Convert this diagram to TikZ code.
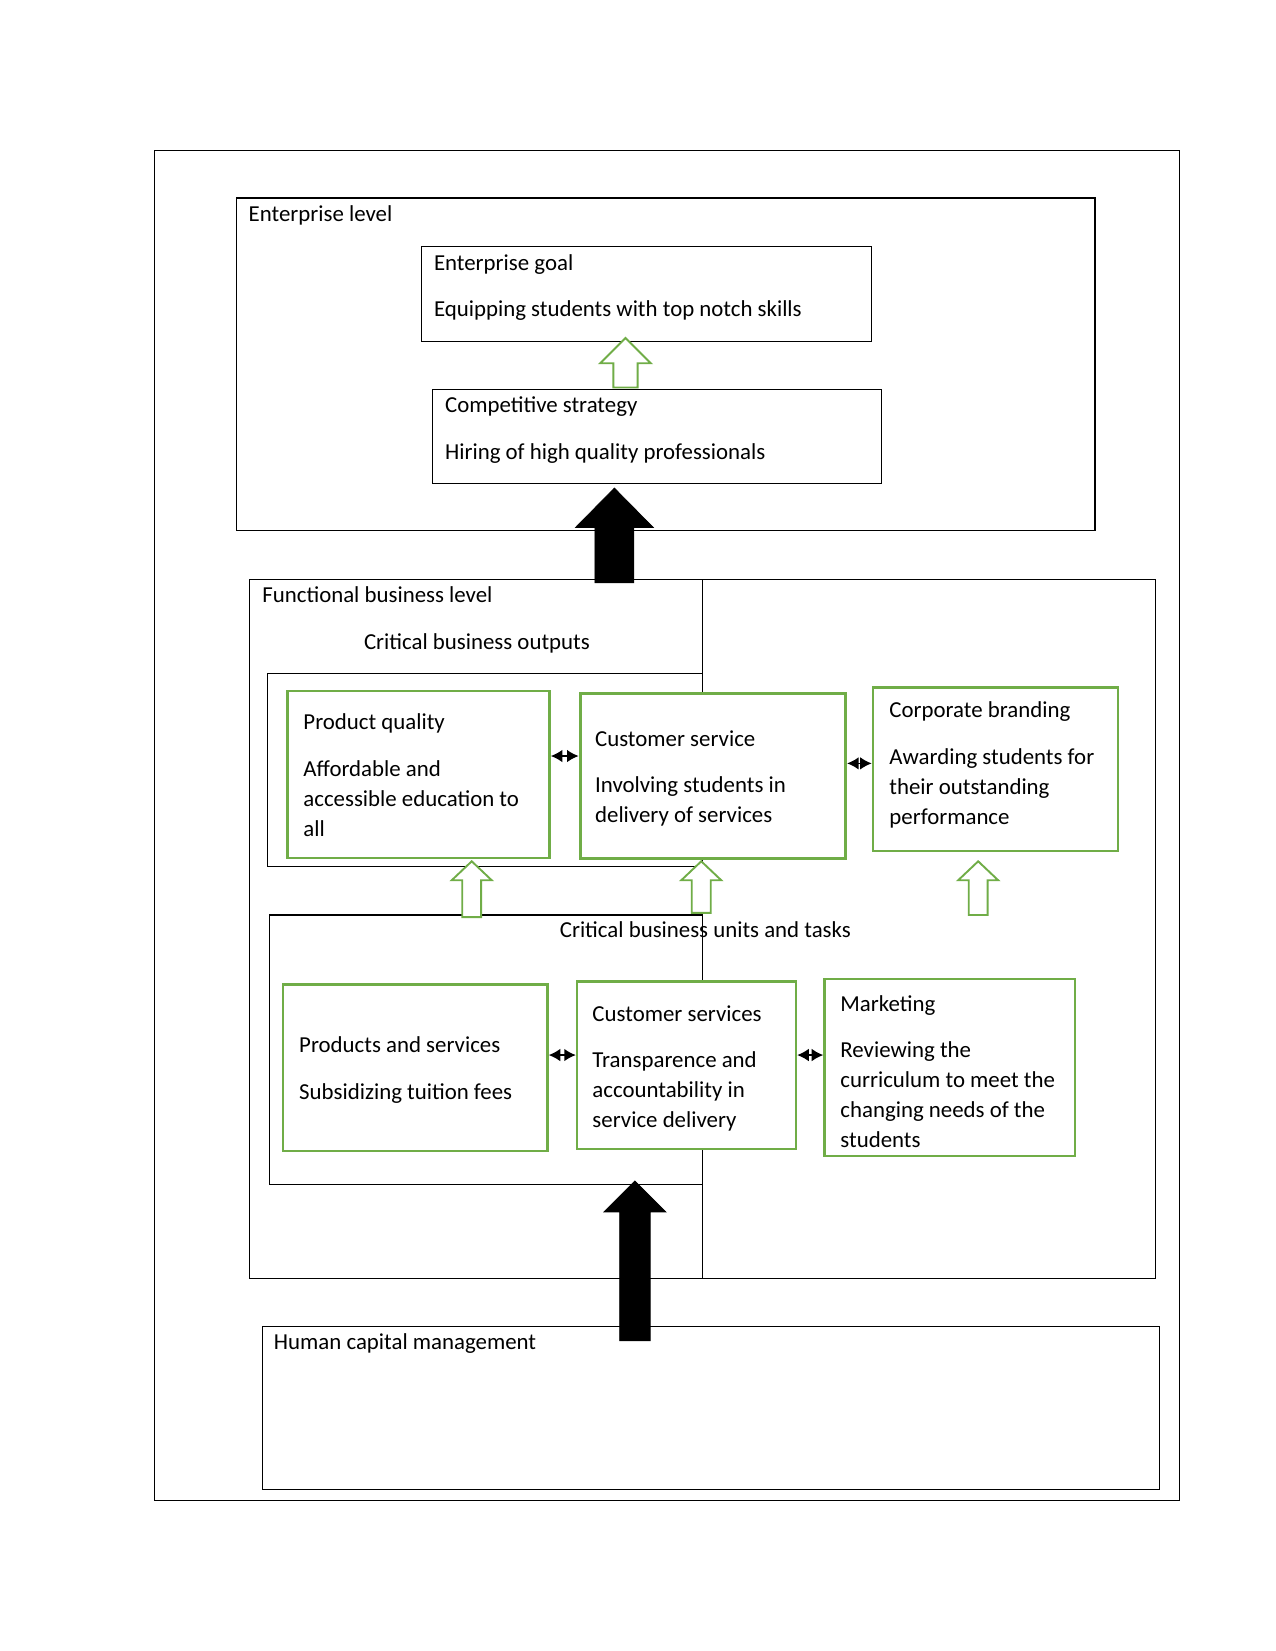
\documentclass[tikz,border=0pt]{standalone}
\usepackage{fontspec}
\setmainfont{Carlito}
\usetikzlibrary{arrows.meta}
\definecolor{offgreen}{RGB}{112,173,71}
\newcommand{\blockarrow}[7]{%
  \draw[#7] (#1,#2) -- ({#1+#4},{#2+#6}) -- ({#1+#5},{#2+#6}) -- ({#1+#5},#3)
    -- ({#1-#5},#3) -- ({#1-#5},{#2+#6}) -- ({#1-#4},{#2+#6}) -- cycle;}
\begin{document}
\begin{tikzpicture}[x=1pt,y=-1pt,
  font=\fontsize{21.7}{28.5}\selectfont,
  blk/.style={draw=black, line width=1.1pt, fill=white, inner sep=0pt, rectangle},
  grn/.style={draw=offgreen, line width=2.2pt, fill=white, inner sep=0pt, rectangle},
  txt/.style={anchor=base west, inner sep=0pt, yshift=-1pt},
  garrow/.style={draw=offgreen, line width=1.8pt, fill=white, line join=miter},
  barrow/.style={fill=black, draw=black, line width=0.6pt, line join=miter},
  dbl/.style={{Latex[length=11pt,width=12pt]}-{Latex[length=11pt,width=12pt]}, line width=1.5pt}]
\useasboundingbox (0,0) rectangle (1211,1568);
\fill[white] (0,0) rectangle (1211,1568);

% frames
\node[blk, minimum width=973pt, minimum height=1282pt] (outer) at (633.5,784) {};
\node[blk, minimum width=815pt, minimum height=316pt] (ent) at (632.5,346) {};
\node[blk, minimum width=428pt, minimum height=90pt] (goal) at (614,279) {};
\node[blk, minimum width=426pt, minimum height=89pt] (comp) at (624,414.5) {};
\node[blk, minimum width=430pt, minimum height=664pt] (funcL) at (452,882) {};
\node[blk, minimum width=430pt, minimum height=664pt] (funcR) at (882,882) {};
\node[blk, minimum width=413pt, minimum height=183pt] (outs) at (460.5,731.5) {};
\node[blk, minimum width=411pt, minimum height=256pt] (units) at (461.5,997) {};
\node[blk, minimum width=852pt, minimum height=155pt] (hcm) at (675,1337.5) {};

% green boxes
\node[grn, minimum width=249pt, minimum height=159pt] (pq) at (397.5,735.5) {};
\node[grn, line width=3pt, minimum width=252pt, minimum height=156pt] (cs) at (677,737) {};
\node[grn, minimum width=233pt, minimum height=155pt] (cb) at (945.5,730.5) {};
\node[grn, minimum width=251pt, minimum height=158pt] (ps) at (394.5,1014) {};
\node[grn, minimum width=208pt, minimum height=159pt] (css) at (652,1011.5) {};
\node[grn, minimum width=238pt, minimum height=168pt] (mk) at (902,1014) {};

% double arrows
\draw[dbl] (pq.east |- 0,718) -- (cs.west |- 0,718);
\draw[dbl] (cs.east |- 0,725) -- (cb.west |- 0,725);
\draw[dbl] (ps.east |- 0,1002) -- (css.west |- 0,1002);
\draw[dbl] (css.east |- 0,1002) -- (mk.west |- 0,1002);

% hollow green arrows
\blockarrow{594}{321}{368}{24}{11.5}{24}{garrow}
\blockarrow{448}{818}{871}{19}{9}{18}{garrow}
\blockarrow{666}{818}{867}{19}{9}{18}{garrow}
\blockarrow{929}{818}{869}{19}{9}{18}{garrow}

% texts
\node[txt] (t1) at (236,209.5) {Enterprise level};
\node[txt] (t2) at (412,255.5) {Enterprise goal};
\node[txt] (t3) at (412,300) {Equipping students with top notch skills};
\node[txt] (t4) at (422.5,390.5) {Competitive strategy};
\node[txt] (t5) at (422.5,435) {Hiring of high quality professionals};
\node[txt] (t6) at (249,571.5) {Functional business level};
\node[txt] (t7) at (345.5,616) {Critical business outputs};
\node[txt] (t8) at (288,692) {Product quality};
\node[txt] (t9) at (288,736) {Affordable and};
\node[txt] (t10) at (288,764.5) {accessible education to};
\node[txt] (t11) at (288,793) {all};
\node[txt] (t12) at (565,707.5) {Customer service};
\node[txt] (t13) at (565,752) {Involving students in};
\node[txt] (t14) at (565,780.5) {delivery of services};
\node[txt] (t15) at (844.5,680.5) {Corporate branding};
\node[txt] (t16) at (844.5,725.5) {Awarding students for};
\node[txt] (t17) at (844.5,754) {their outstanding};
\node[txt] (t18) at (844.5,782.5) {performance};
\node[txt] (t19) at (531.5,889.5) {Critical business units and tasks};
\node[txt] (t20) at (284,999) {Products and services};
\node[txt] (t21) at (284,1043) {Subsidizing tuition fees};
\node[txt] (t22) at (562.5,969) {Customer services};
\node[txt] (t23) at (562.5,1013) {Transparence and};
\node[txt] (t24) at (562.5,1041.5) {accountability in};
\node[txt] (t25) at (562.5,1070) {service delivery};
\node[txt] (t26) at (798,959.5) {Marketing};
\node[txt] (t27) at (798,1003.5) {Reviewing the};
\node[txt] (t28) at (798,1032) {curriculum to meet the};
\node[txt] (t29) at (798,1060.5) {changing needs of the};
\node[txt] (t30) at (798,1089) {students};
\node[txt] (t31) at (260,1280.5) {Human capital management};

% divider line over the units text
\draw[line width=1.1pt] (667,869) -- (667,931);

% black block arrows
\blockarrow{583.5}{463.5}{553.5}{37}{18.5}{37.5}{barrow}
\blockarrow{603}{1121.5}{1273.5}{29.5}{14.5}{29.5}{barrow}
\end{tikzpicture}
\end{document}
